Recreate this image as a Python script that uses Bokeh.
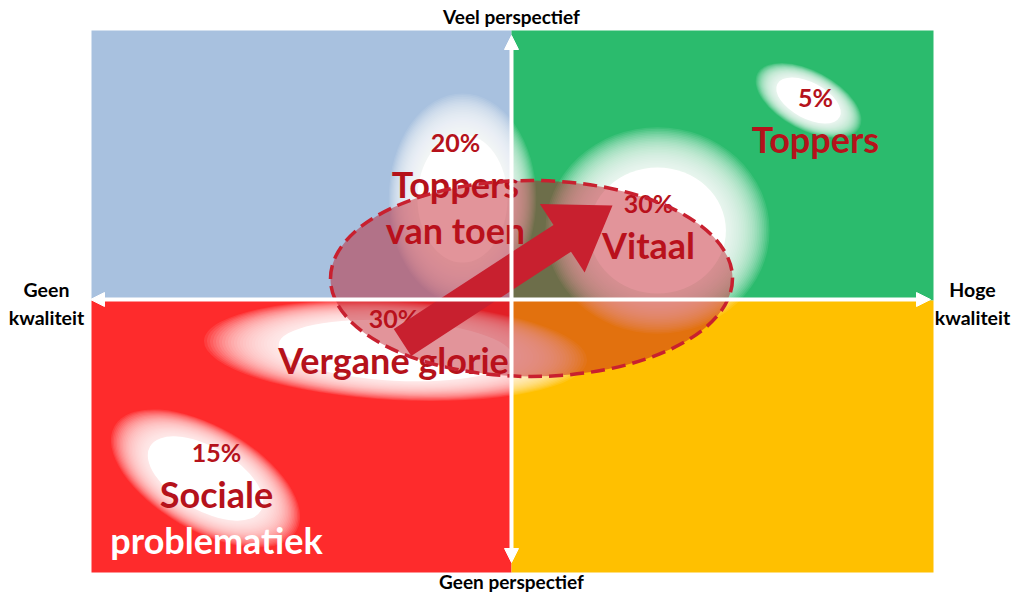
import numpy as np
from bokeh.plotting import figure
from bokeh.models import Range1d, Arrow, NormalHead
from bokeh.core.properties import value
from bokeh.embed import file_html
from bokeh.resources import INLINE

# ---------------- data ----------------
segments = ["Toppers", "Toppers van toen", "Vitaal", "Vergane glorie", "Sociale problematiek"]
shares = [5, 20, 30, 30, 15]
segment_lines = [["Toppers"], ["Toppers", "van toen"], ["Vitaal"], ["Vergane glorie"], ["Sociale", "problematiek"]]
axis_labels = ["Veel perspectief", "Geen perspectief", "Geen\nkwaliteit", "Hoge\nkwaliteit"]
quadrant_names = ["top-left", "top-right", "bottom-left", "bottom-right"]
quadrant_colors = ["#A8C1DF", "#2BBB6D", "#FE2B2C", "#FFC000"]

# ---------------- layout (pixel positions, y down) ----------------
W, H = 1017, 592
X0, X1, XM = 91, 933, 511
Y0, Y1, YM = 30, 572, 300
quad_boxes = [(X0, XM, Y0, YM), (XM, X1, Y0, YM), (X0, XM, YM, Y1), (XM, X1, YM, Y1)]
seg_pos = [(815, 96), (455, 141), (648, 202), (393, 317), (216, 451)]
seg_line_colors = [["#B5121B"], ["#B5121B", "#B5121B"], ["#B5121B"], ["#B5121B"], ["#B5121B", "#FFFFFF"]]
blobs = [(808, 100, 98, 50, 28), (462, 198, 125, 178, 0), (657, 230, 190, 175, 0),
         (395, 350, 325, 84, 3), (205, 478, 178, 88, 30)]

DARK = "#B5121B"
FONT = value("Lato")

p = figure(width=W, height=H, output_backend="svg", toolbar_location=None,
           x_range=Range1d(0, W), y_range=Range1d(H, 0),
           min_border=0, outline_line_color=None, background_fill_color="white")
p.axis.visible = False
p.grid.visible = False

for (xa, xb, ya, yb), c in zip(quad_boxes, quadrant_colors):
    p.quad(left=[xa], right=[xb], top=[ya], bottom=[yb], fill_color=c, line_color=None)

for cx, cy, w, h, ang in blobs:
    a = -np.deg2rad(ang)
    for s in np.linspace(1.18, 0.72, 26):
        p.ellipse(x=[cx], y=[cy], width=[w * s], height=[h * s], angle=[a],
                  fill_color="white", fill_alpha=0.09, line_color=None)
    p.ellipse(x=[cx], y=[cy], width=[w * 0.72], height=[h * 0.72], angle=[a],
              fill_color="white", fill_alpha=1.0, line_color=None)

for (xs, ys, xe, ye) in [(XM, 562, XM, 35), (90, YM - 1, 930, YM - 1)]:
    p.add_layout(Arrow(x_start=xs, y_start=ys, x_end=xe, y_end=ye, line_color="white", line_width=4,
                       end=NormalHead(size=14, fill_color="white", line_color="white"),
                       start=NormalHead(size=14, fill_color="white", line_color="white")))

for (x, y), sh, lines, cols in zip(seg_pos, shares, segment_lines, seg_line_colors):
    p.text(x=[x], y=[y], text=[f"{sh}%"], text_font=FONT, text_font_style="bold",
           text_font_size="25px", text_color=DARK, text_align="center", text_baseline="middle")
    for i, (ln, col) in enumerate(zip(lines, cols)):
        p.text(x=[x], y=[y + 42 + 46 * i], text=[ln], text_font=FONT, text_font_style="bold",
               text_font_size="36px", text_color=col, text_align="center", text_baseline="middle")

p.text(x=[XM, XM], y=[16, 581], text=axis_labels[:2], text_font=FONT, text_font_style="bold",
       text_font_size="19px", text_color="black", text_align="center", text_baseline="middle")
p.text(x=[46, 972], y=[303, 303], text=axis_labels[2:], text_font=FONT, text_font_style="bold",
       text_font_size="19.5px", text_color="black", text_align="center", text_baseline="middle",
       text_line_height=1.25)

p.ellipse(x=[531], y=[278], width=[402], height=[196], angle=[0],
          fill_color="#BF1120", fill_alpha=0.45, line_color="#C8202F", line_width=3.5,
          line_dash="14 7")

tail = np.array([402.0, 342.0])
tip = np.array([612.0, 205.0])
d = tip - tail
u = d / np.linalg.norm(d)
n = np.array([-u[1], u[0]])
shaft_w, head_len, head_w = 32, 60, 82
base = tip - u * head_len
pts = [tail + n * shaft_w / 2, base + n * shaft_w / 2, base + n * head_w / 2, tip,
       base - n * head_w / 2, base - n * shaft_w / 2, tail - n * shaft_w / 2]
p.patch(x=[q[0] for q in pts], y=[q[1] for q in pts], fill_color="#C8202F", line_color=None)

open("out.html", "w").write(file_html(p, INLINE))
